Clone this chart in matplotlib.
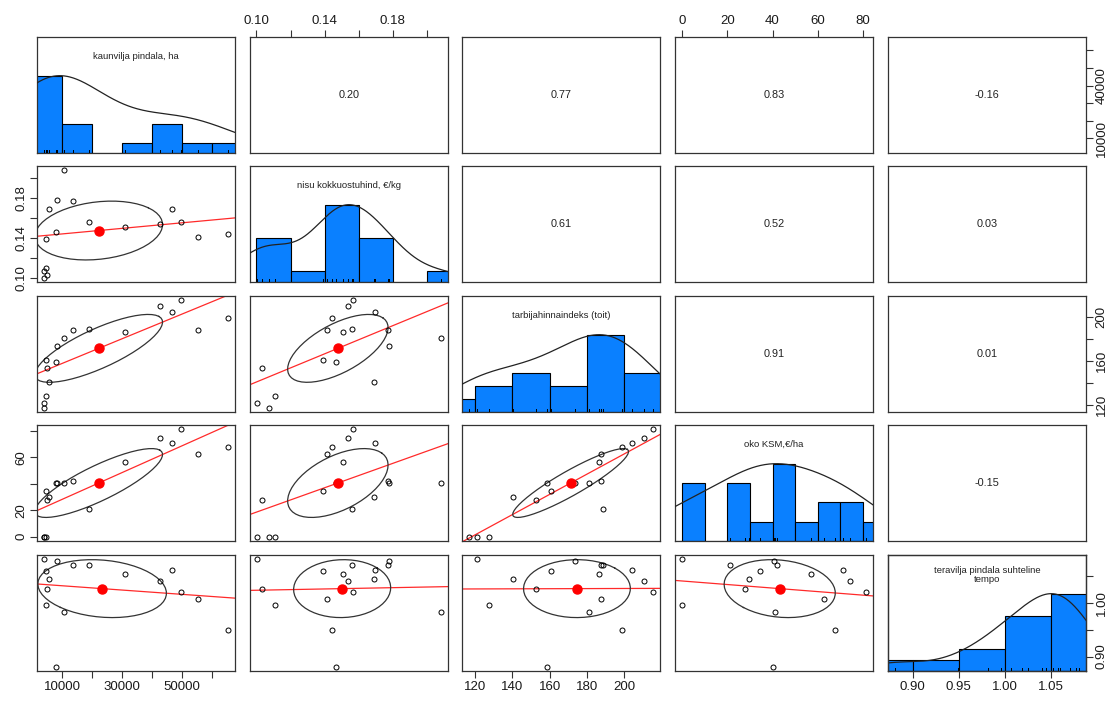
import numpy as np
import matplotlib
matplotlib.use("Agg")
import matplotlib.pyplot as plt

plt.rcParams["font.family"] = ["Liberation Sans", "DejaVu Sans"]

# one row per season, the first season has no growth rate
kaunvilja = np.array([4100, 4150, 4550, 4560, 5000, 5670, 8000, 8440, 10670,
                      13560, 18890, 31000, 42780, 46670, 49560, 55220, 65220], dtype=float)
nisu = np.array([0.1074, 0.1005, 0.1106, 0.1390, 0.1030, 0.1692, 0.1465, 0.1780, 0.2082,
                 0.1770, 0.1560, 0.1510, 0.1540, 0.1697, 0.1566, 0.1414, 0.1445])
tarbija = np.array([117.1, 121.1, 127.6, 160.5, 152.9, 140.5, 158.5, 173.8, 180.9,
                    187.6, 188.5, 186.4, 210.3, 204.1, 215.1, 187.6, 198.6])
oko = np.array([0.0, 0.0, 0.0, 34.3, 27.9, 29.7, 40.3, 40.5, 41.0,
                42.0, 21.0, 56.9, 74.4, 71.1, 81.3, 62.7, 67.8])
tempo = np.array([np.nan, 1.0805, 0.9962, 1.0585, 1.0250, 1.0446, 0.8813, 1.0780, 0.9824,
                  1.0707, 1.0707, 1.0530, 1.0409, 1.0606, 1.0191, 1.0072, 0.9490])

names = [
    "kaunvilja pindala, ha",
    "nisu kokkuostuhind, €/kg",
    "tarbijahinnaindeks (toit)",
    "oko KSM,€/ha",
    "teravilja pindala suhteline\ntempo",
]
columns = [kaunvilja, nisu, tarbija, oko, tempo]
bin_widths = [10000, 0.02, 20, 10, 0.05]

axis_ticks = [
    [10000, 20000, 30000, 40000, 50000, 60000],
    [0.10, 0.12, 0.14, 0.16, 0.18, 0.20],
    [120, 140, 160, 180, 200],
    [0, 20, 40, 60, 80],
    [0.90, 0.95, 1.00, 1.05],
]
x_labelled = [
    [10000, 30000, 50000],
    [0.10, 0.14, 0.18],
    [120, 140, 160, 180, 200],
    [0, 20, 40, 60, 80],
    [0.90, 0.95, 1.00, 1.05],
]
y_labelled = [
    [10000, 40000],
    [0.10, 0.14, 0.18],
    [120, 160, 200],
    [0, 20, 60],
    [0.90, 1.00],
]
label_formats = ["{:.0f}", "{:.2f}", "{:.0f}", "{:.0f}", "{:.2f}"]

HIST_COLOR = "#0A80FF"
FRAME_COLOR = "#333333"
FIG_W, FIG_H = 1117, 702
PANEL_LEFT = [37, 250, 462, 675, 888]
PANEL_TOP = [37, 166, 296, 425, 555]
PANEL_W, PANEL_H = 198, 116


def padded_limits(values):
    lo, hi = np.nanmin(values), np.nanmax(values)
    pad = 0.04 * (hi - lo)
    return lo - pad, hi + pad


def density_curve(values):
    v = values[~np.isnan(values)]
    q1, q3 = np.percentile(v, [25, 75])
    bw = 1.06 * min(np.std(v, ddof=1), (q3 - q1) / 1.34) * len(v) ** -0.2
    bw *= 1.2
    grid = np.linspace(v.min() - 3 * bw, v.max() + 3 * bw, 512)
    dens = np.exp(-0.5 * ((grid[:, None] - v[None, :]) / bw) ** 2).sum(axis=1)
    return grid, dens / dens.max()


def pair_stats(x, y):
    ok = ~np.isnan(x) & ~np.isnan(y)
    return x[ok], y[ok]


def tick_text(idx, labelled):
    fmt = label_formats[idx]
    out = []
    for t in axis_ticks[idx]:
        out.append(fmt.format(t) if any(abs(t - s) < 1e-9 for s in labelled[idx]) else "")
    return out


def draw_hist(ax, idx):
    v = columns[idx][~np.isnan(columns[idx])]
    w = bin_widths[idx]
    lo = np.floor(v.min() / w - 1e-9) * w
    hi = np.ceil(v.max() / w + 1e-9) * w
    edges = np.arange(lo, hi + w / 2, w)
    counts, _ = np.histogram(v, bins=edges)
    heights = counts / counts.max()
    ax.bar(edges[:-1], heights, width=w, align="edge", color=HIST_COLOR,
           edgecolor="black", linewidth=0.8, zorder=2)
    gx, gy = density_curve(columns[idx])
    ax.plot(gx, gy, color="#222222", lw=0.9, zorder=3)
    for val in v:
        ax.plot([val, val], [0, 0.045], color="black", lw=0.7, zorder=4)
    ax.set_ylim(0, 1.5)
    ax.text(0.5, 0.83, names[idx], transform=ax.transAxes, ha="center", va="center",
            fontsize=6.8, color="#222222", linespacing=1.0)


def draw_scatter(ax, xi, yi):
    x, y = pair_stats(columns[xi], columns[yi])
    ax.plot(x, y, "o", mfc="none", mec="black", ms=3.6, mew=0.7, zorder=3)

    # least squares line across the full panel
    slope, intercept = np.polyfit(x, y, 1)
    xl = np.array(padded_limits(columns[xi]))
    ax.plot(xl, intercept + slope * xl, color="#FF2A2A", lw=0.9, zorder=2)

    # one standard deviation ellipse around the means
    xm, ym = x.mean(), y.mean()
    xs, ys = x.std(ddof=1), y.std(ddof=1)
    r = np.corrcoef(x, y)[0, 1]
    theta = np.sign(r) / np.sqrt(2) if abs(r) > 0 else 1 / np.sqrt(2)
    ang = np.linspace(0, 2 * np.pi, 52)
    ex = np.cos(ang) * np.sqrt(1 + r) * theta - np.sin(ang) * np.sqrt(1 - r) * theta
    ey = np.cos(ang) * np.sqrt(1 + r) * theta + np.sin(ang) * np.sqrt(1 - r) * theta
    ax.plot(ex * xs + xm, ey * ys + ym, color="#333333", lw=0.9, zorder=2)
    ax.plot(xm, ym, "o", color="red", ms=6.5, zorder=4)


def draw_corr(ax, xi, yi):
    x, y = pair_stats(columns[xi], columns[yi])
    r = np.corrcoef(x, y)[0, 1]
    ax.text(0.5, 0.5, f"{r:.2f}", transform=ax.transAxes, ha="center", va="center",
            fontsize=7.8, color="#222222")


def frame(ax):
    for spine in ax.spines.values():
        spine.set_color(FRAME_COLOR)
        spine.set_linewidth(0.9)
    ax.tick_params(length=5, width=0.8, color=FRAME_COLOR, labelsize=9.5,
                   labelcolor="#1a1a1a", pad=2)


def style_axes(ax, row, col):
    ax.set_xlim(*padded_limits(columns[col]))
    if row != col:
        ax.set_ylim(*padded_limits(columns[row]))
    frame(ax)

    n = len(columns)
    ax.set_xticks([])
    ax.set_yticks([])
    if row == n - 1 and col % 2 == 0:
        ax.set_xticks(axis_ticks[col])
        ax.set_xticklabels(tick_text(col, x_labelled))
    if row == 0 and col % 2 == 1:
        ax.set_xticks(axis_ticks[col])
        ax.set_xticklabels(tick_text(col, x_labelled))
        ax.xaxis.tick_top()
    if col == 0 and row % 2 == 1:
        ax.set_yticks(axis_ticks[row])
        ax.set_yticklabels(tick_text(row, y_labelled), rotation=90, va="center")
    if col == n - 1 and row % 2 == 0:
        # the histogram panel keeps its own 0..1.5 scale, so the variable's
        # axis goes on a twin
        yax = ax
        if row == col:
            yax = ax.twinx()
            yax.set_ylim(*padded_limits(columns[row]))
            frame(yax)
        yax.set_yticks(axis_ticks[row])
        yax.set_yticklabels(tick_text(row, y_labelled), rotation=90, va="center")
        yax.yaxis.tick_right()


def main():
    fig = plt.figure(figsize=(FIG_W / 100, FIG_H / 100), dpi=100)
    fig.patch.set_facecolor("white")
    n = len(columns)
    for row in range(n):
        for col in range(n):
            rect = [PANEL_LEFT[col] / FIG_W, 1 - (PANEL_TOP[row] + PANEL_H) / FIG_H,
                    PANEL_W / FIG_W, PANEL_H / FIG_H]
            ax = fig.add_axes(rect)
            if row == col:
                draw_hist(ax, col)
            elif row > col:
                draw_scatter(ax, col, row)
            else:
                draw_corr(ax, row, col)
            style_axes(ax, row, col)
    fig.savefig("out.png", dpi=100, facecolor="white")


if __name__ == "__main__":
    main()
